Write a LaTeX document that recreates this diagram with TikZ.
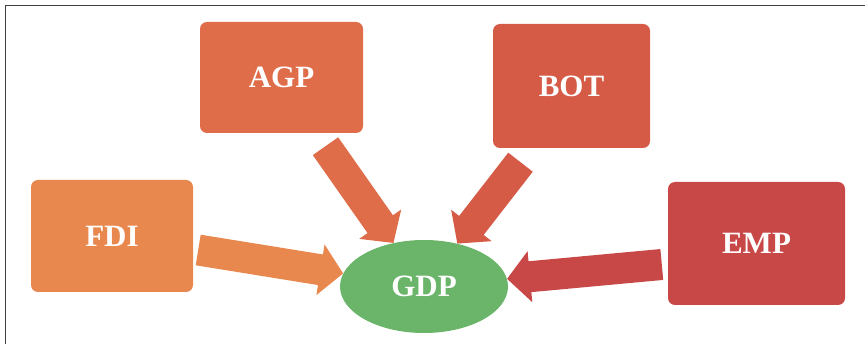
\documentclass[tikz,border=0pt]{standalone}
\usepackage{fontspec}
\setmainfont{Liberation Serif}
\usetikzlibrary{arrows.meta,positioning,shapes.geometric}
\definecolor{fdicol}{HTML}{E9884E}
\definecolor{agpcol}{HTML}{E06D4A}
\definecolor{botcol}{HTML}{D55B47}
\definecolor{empcol}{HTML}{C84848}
\definecolor{gdpcol}{HTML}{6BB56B}
\begin{document}
\begin{tikzpicture}[x=1pt,y=-1pt]
\tikzstyle{factor}=[rectangle, rounded corners=7pt, inner sep=0pt, text=white, font=\fontsize{31}{33}\selectfont\bfseries]
\tikzstyle{target}=[ellipse, inner sep=0pt, fill=gdpcol, text=white, font=\fontsize{31}{33}\selectfont\bfseries]
\tikzstyle{fat}=[line width=31pt, -{Triangle[length=23pt,width=50pt]}]
\useasboundingbox (0,0) rectangle (865,344);
  \draw[line width=1.5pt, black!75] (5.5,344) -- (5.5,5.5) -- (865,5.5);
  \node[factor, fill=agpcol, minimum width=163pt, minimum height=111pt] (AGP) at (281.5,77.5) {AGP};
  \node[factor, fill=botcol, minimum width=157pt, minimum height=124pt] (BOT) at (571.5,86) {BOT};
  \node[factor, fill=fdicol, minimum width=162pt, minimum height=112pt] (FDI) at (112,236) {FDI};
  \node[factor, fill=empcol, minimum width=177pt, minimum height=123pt] (EMP) at (756.5,243.5) {EMP};
  \node[target, minimum width=168pt, minimum height=93pt] (GDP) at (424,286.5) {GDP};
  \path ([xshift=44pt,yshift=-13pt]AGP.south) edge [fat, draw=agpcol] (GDP)
        ([xshift=-51pt,yshift=-14pt]BOT.south) edge [fat, draw=botcol] (GDP)
        ([xshift=5pt,yshift=-14pt]FDI.east) edge [fat, draw=fdicol] (GDP)
        ([xshift=-6pt,yshift=-21pt]EMP.west) edge [fat, draw=empcol] (GDP);
\end{tikzpicture}
\end{document}
